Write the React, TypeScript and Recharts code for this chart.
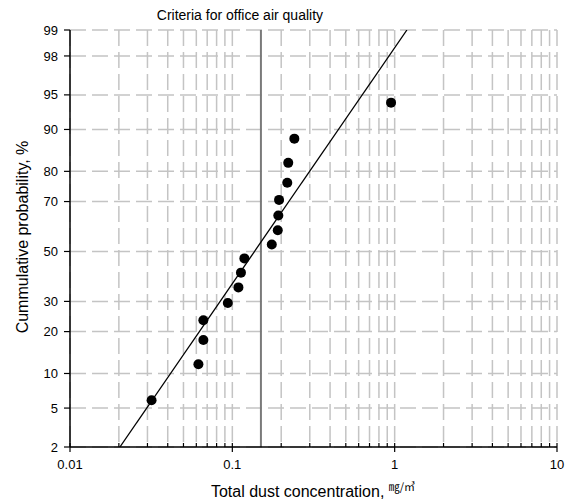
import {
  ComposedChart,
  Scatter,
  XAxis,
  YAxis,
  CartesianGrid,
  ReferenceLine,
} from "recharts";

// measured points (mg/m3, cumulative %)
const concentration = [
  0.0318, 0.0618, 0.0663, 0.0663, 0.0938, 0.109, 0.113, 0.1186, 0.175, 0.1905,
  0.192, 0.194, 0.218, 0.221, 0.241, 0.95,
];
const probability = [
  5.9, 11.8, 17.6, 23.5, 29.4, 35.3, 41.2, 47.1, 52.9, 58.8, 64.7, 70.6, 76.5,
  82.4, 88.2, 94.1,
];

// fitted log-normal line, read at the plot edges
const fitConcentration = [0.0203, 1.19];
const fitProbability = [2, 99];

const criteria = 0.15;

const probTicks = [2, 5, 10, 20, 30, 50, 70, 80, 90, 95, 98, 99];
const decadeTicks = [0.01, 0.1, 1, 10];
const logTicks = [
  0.01, 0.02, 0.03, 0.04, 0.05, 0.06, 0.07, 0.08, 0.09, 0.1, 0.2, 0.3, 0.4, 0.5,
  0.6, 0.7, 0.8, 0.9, 1, 2, 3, 4, 5, 6, 7, 8, 9, 10,
];

const FONT = '"Liberation Sans", Arial, sans-serif';

// inverse normal CDF (Acklam) so the y axis reads as a probability scale
function probit(pct: number) {
  const p = pct / 100;
  const a = [-39.69683028665376, 220.9460984245205, -275.9285104469687, 138.357751867269, -30.66479806614716, 2.506628277459239];
  const b = [-54.47609879822406, 161.5858368580409, -155.6989798598866, 66.80131188771972, -13.28068155288572];
  const c = [-0.007784894002430293, -0.3223964580411365, -2.400758277161838, -2.549732539343734, 4.374664141464968, 2.938163982698783];
  const d = [0.007784695709041462, 0.3224671290700398, 2.445134137142996, 3.754408661907416];
  const lo = 0.02425;
  if (p < lo) {
    const q = Math.sqrt(-2 * Math.log(p));
    return (((((c[0] * q + c[1]) * q + c[2]) * q + c[3]) * q + c[4]) * q + c[5]) /
      ((((d[0] * q + d[1]) * q + d[2]) * q + d[3]) * q + 1);
  }
  if (p > 1 - lo) {
    const q = Math.sqrt(-2 * Math.log(1 - p));
    return -(((((c[0] * q + c[1]) * q + c[2]) * q + c[3]) * q + c[4]) * q + c[5]) /
      ((((d[0] * q + d[1]) * q + d[2]) * q + d[3]) * q + 1);
  }
  const q = p - 0.5;
  const r = q * q;
  return (((((a[0] * r + a[1]) * r + a[2]) * r + a[3]) * r + a[4]) * r + a[5]) * q /
    (((((b[0] * r + b[1]) * r + b[2]) * r + b[3]) * r + b[4]) * r + 1);
}

const points = concentration.map((x, i) => ({ x, z: probit(probability[i]) }));
const fitLine = fitConcentration.map((x, i) => ({ x, z: probit(fitProbability[i]) }));
const zTicks = probTicks.map(probit);
const zDomain = [probit(2), probit(99)];

const zLabel = (z: number) => {
  let best = 0;
  zTicks.forEach((t, i) => {
    if (Math.abs(t - z) < Math.abs(zTicks[best] - z)) best = i;
  });
  return String(probTicks[best]);
};

const XTick = (props: any) => {
  const { x, y, payload } = props;
  const v = payload.value;
  const major = decadeTicks.some((t) => Math.abs(t - v) < 1e-9);
  const axisY = y - 13;
  return (
    <g>
      <line x1={x} x2={x} y1={axisY - 4} y2={major ? axisY + 5 : axisY} stroke="#000" strokeWidth={1.2} />
      {major && (
        <text x={x} y={y} dy="0.71em" textAnchor="middle" fontSize={13} fontFamily={FONT} fill="#000">
          {String(v)}
        </text>
      )}
    </g>
  );
};

const Dot = (props: any) => <circle cx={props.cx} cy={props.cy} r={5} fill="#000" />;

export default function App() {
  return (
    <div style={{ position: "absolute", left: 0, top: 0, background: "#fff" }}>
      <ComposedChart
        width={573}
        height={502}
        margin={{ top: 30, right: 16, bottom: 25, left: 30 }}
      >
        <CartesianGrid stroke="#c4c4c4" strokeWidth={1.5} strokeDasharray="16 6" />
        <XAxis
          dataKey="x"
          type="number"
          scale="log"
          domain={[0.01, 10]}
          allowDataOverflow
          ticks={logTicks}
          interval={0}
          tickSize={5}
          tickMargin={8}
          tickLine={false}
          tick={<XTick />}
          height={30}
          axisLine={{ stroke: "#000", strokeWidth: 1.5 }}
          label={{
            content: () => (
              <text x={313} y={497} textAnchor="middle" fontSize={16} fontFamily={FONT} fill="#000">
                Total dust concentration,{" "}
                <tspan fontFamily='"Noto Sans CJK KR"' fontSize={11} dy={-6}>
                  ㎎/㎥
                </tspan>
              </text>
            ),
          }}
        />
        <XAxis
          xAxisId="top"
          orientation="top"
          mirror
          height={0}
          type="number"
          scale="log"
          domain={[0.01, 10]}
          allowDataOverflow
          ticks={logTicks}
          interval={0}
          tickSize={4}
          tickFormatter={() => ""}
          stroke="#000"
          axisLine={{ stroke: "#000", strokeWidth: 1.5 }}
        />
        <YAxis
          dataKey="z"
          type="number"
          domain={zDomain}
          allowDataOverflow
          ticks={zTicks}
          interval={0}
          tickFormatter={zLabel}
          tickSize={6}
          tickMargin={6}
          width={40}
          tick={{ fontSize: 13, fill: "#000", fontFamily: FONT }}
          tickLine={{ stroke: "#000", strokeWidth: 1.2 }}
          axisLine={{ stroke: "#000", strokeWidth: 1.5 }}
          label={{
            content: () => (
              <text
                transform="rotate(-90)"
                x={-237}
                y={22}
                textAnchor="middle"
                dominantBaseline="central"
                fontSize={16}
                fontFamily={FONT}
                fill="#000"
              >
                Cummulative probability, %
              </text>
            ),
          }}
        />
        <YAxis
          yAxisId="right"
          orientation="right"
          mirror
          width={0}
          type="number"
          domain={zDomain}
          allowDataOverflow
          tick={false}
          tickLine={false}
          axisLine={{ stroke: "#000", strokeWidth: 1.5 }}
        />
        <ReferenceLine
          x={criteria}
          stroke="#7a7a7a"
          strokeWidth={2}
          label={{
            content: (p: any) => (
              <text
                x={p.viewBox.x - 21}
                y={20}
                textAnchor="middle"
                fontSize={14}
                fontFamily={FONT}
                fill="#000"
              >
                Criteria for office air quality
              </text>
            ),
          }}
        />
        <Scatter
          data={fitLine}
          line={{ stroke: "#000", strokeWidth: 1.3 }}
          shape={() => <g />}
          isAnimationActive={false}
        />
        <Scatter data={points} shape={<Dot />} isAnimationActive={false} />
      </ComposedChart>
    </div>
  );
}
